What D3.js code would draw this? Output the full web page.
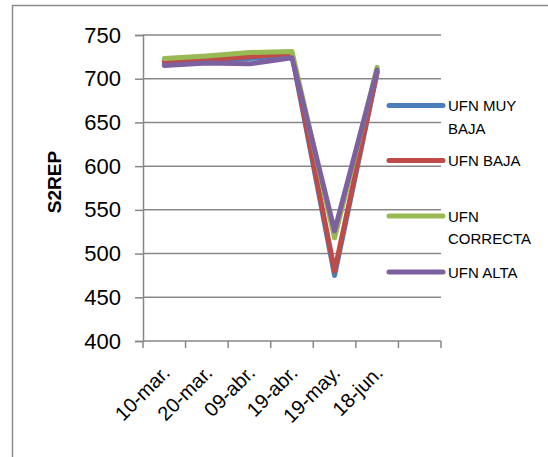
<!DOCTYPE html>
<html>
<head>
<meta charset="utf-8">
<script src="https://cdn.jsdelivr.net/npm/d3@7"></script>
<style>
  html, body { margin: 0; padding: 0; background: #fff; }
  svg { display: block; }
</style>
</head>
<body>
<script>
// Fechas de muestreo (el último hueco queda vacío en el eje)
const categories = ["10-mar.", "20-mar.", "09-abr.", "19-abr.", "19-may.", "18-jun.", ""];
const yTicks = [400, 450, 500, 550, 600, 650, 700, 750];

const seriesNames = ["UFN MUY BAJA", "UFN BAJA", "UFN CORRECTA", "UFN ALTA"];
const legendLines = [["UFN MUY", "BAJA"], ["UFN BAJA"], ["UFN", "CORRECTA"], ["UFN ALTA"]];
const colors = ["#4a7ebb", "#be4b48", "#98b954", "#7d60a0"];

const ufnMuyBaja   = [718, 721, 723, 727, 475, 707];
const ufnBaja      = [720, 722, 725, 729, 480, 708];
const ufnCorrecta  = [723, 726, 730, 731, 518, 713];
const ufnAlta      = [715, 718, 717, 724, 526, 710];
const seriesValues = [ufnMuyBaja, ufnBaja, ufnCorrecta, ufnAlta];

const W = 548, H = 457;
const svg = d3.select("body").append("svg").attr("width", W).attr("height", H);
const font = "'Liberation Sans', Arial, sans-serif";

// marco del gráfico
svg.append("rect")
  .attr("x", 12.5).attr("y", 5.5).attr("width", 620).attr("height", 520)
  .attr("fill", "none").attr("stroke", "#8c8c8c").attr("stroke-width", 1.5);

const plot = { left: 143, right: 441, top: 35, bottom: 341 };

const x = d3.scaleBand().domain(d3.range(categories.length))
  .range([plot.left, plot.right]).padding(0);
const y = d3.scaleLinear().domain([400, 750]).range([plot.bottom, plot.top]);

const grid = "#878787";

// líneas de cuadrícula horizontales
svg.append("g").selectAll("line").data(yTicks.filter(v => v > 400)).join("line")
  .attr("x1", plot.left).attr("x2", plot.right)
  .attr("y1", d => y(d)).attr("y2", d => y(d))
  .attr("stroke", grid).attr("stroke-width", 1.5);

// eje Y
const yAxis = svg.append("g").attr("transform", `translate(${plot.left},0)`)
  .call(d3.axisLeft(y).tickValues(yTicks).tickSize(8).tickPadding(14));
yAxis.select(".domain").attr("stroke", grid).attr("stroke-width", 1.5);
yAxis.selectAll(".tick line").attr("stroke", grid).attr("stroke-width", 1.5);
yAxis.selectAll(".tick text")
  .attr("font-family", font)
  .attr("font-size", 22).attr("fill", "#000");

// eje X
const xAxis = svg.append("g").attr("transform", `translate(0,${plot.bottom})`)
  .call(d3.axisBottom(x).tickSize(0).tickFormat(i => categories[i]));
xAxis.select(".domain").remove();
svg.append("line")
  .attr("x1", plot.left).attr("x2", plot.right)
  .attr("y1", plot.bottom).attr("y2", plot.bottom)
  .attr("stroke", grid).attr("stroke-width", 1.5);
// marcas entre categorías
const edges = categories.map((c, i) => x(i)).concat([x(categories.length - 1) + x.bandwidth()]);
svg.append("g").selectAll("line").data(edges).join("line")
  .attr("x1", d => d).attr("x2", d => d)
  .attr("y1", plot.bottom).attr("y2", plot.bottom + 7)
  .attr("stroke", grid).attr("stroke-width", 1.5);

xAxis.selectAll(".tick text")
  .attr("font-family", font)
  .attr("font-size", 20).attr("fill", "#000")
  .attr("text-anchor", "end")
  .attr("dy", "0.35em")
  .attr("transform", "translate(2,28) rotate(-45)")
  .attr("y", 0);

// título del eje Y
svg.append("text")
  .attr("transform", "translate(61,182) rotate(-90)")
  .attr("text-anchor", "middle")
  .attr("font-family", font)
  .attr("font-weight", "bold").attr("font-size", 19).attr("fill", "#000")
  .text("S2REP");

// series
const line = d3.line().x((d, i) => x(i) + x.bandwidth() / 2).y(d => y(d));
seriesValues.forEach((vals, k) => {
  svg.append("path").datum(vals)
    .attr("d", line)
    .attr("fill", "none")
    .attr("stroke", colors[k])
    .attr("stroke-width", 5)
    .attr("stroke-linejoin", "round")
    .attr("stroke-linecap", "round");
});

// leyenda
const legendY = [105.5, 160.5, 216, 272];
const lg = svg.append("g");
seriesNames.forEach((name, k) => {
  const g = lg.append("g").attr("transform", `translate(0,${legendY[k]})`);
  g.append("line").attr("x1", 389).attr("x2", 443).attr("y1", 0).attr("y2", 0)
    .attr("stroke", colors[k]).attr("stroke-width", 5).attr("stroke-linecap", "round");
  const t = g.append("text")
    .attr("font-family", font)
    .attr("font-size", 15).attr("fill", "#000");
  legendLines[k].forEach((ln, j) => {
    t.append("tspan").attr("x", 448).attr("y", 5.5 + j * 22.5).text(ln);
  });
});
</script>
</body>
</html>
